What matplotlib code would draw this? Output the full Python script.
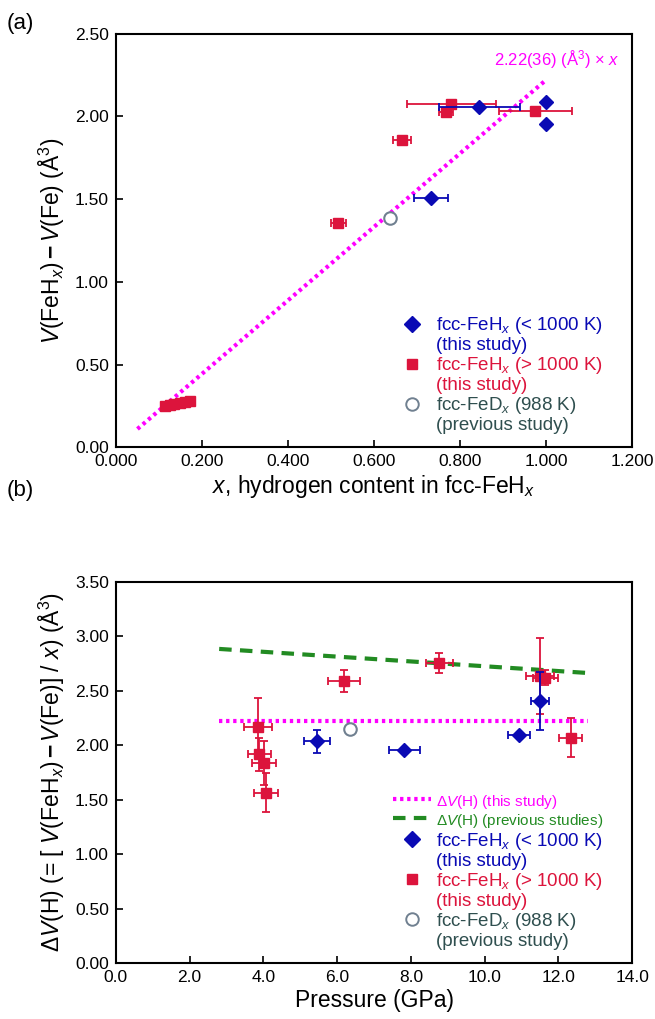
import numpy as np
import matplotlib
matplotlib.use("Agg")
import matplotlib.pyplot as plt
from matplotlib.lines import Line2D

plt.rcParams['font.family'] = ['Liberation Sans', 'DejaVu Sans']
plt.rcParams['mathtext.fontset'] = 'custom'
plt.rcParams['mathtext.rm'] = 'Liberation Sans'
plt.rcParams['mathtext.it'] = 'Liberation Sans:italic'
plt.rcParams['mathtext.bf'] = 'Liberation Sans:bold'

BLUE = '#0a0ab4'
RED = '#dc143c'
MAG = '#ff00ff'
GREEN = '#228b22'
GRAY = '#708090'
DGRAY = '#2f4f4f'

# ---- panel (a) data: x, V(FeHx)-V(Fe)
a_blue_x = [0.845, 1.000, 1.000, 0.733]
a_blue_y = [2.055, 2.089, 1.955, 1.508]
a_blue_xerr = [0.095, 0.0, 0.0, 0.040]

a_red_x = [0.780, 0.767, 0.975, 0.665, 0.517, 0.115, 0.125, 0.135, 0.148, 0.160, 0.172]
a_red_y = [2.075, 2.025, 2.035, 1.858, 1.354, 0.252, 0.258, 0.262, 0.268, 0.272, 0.278]
a_red_xerr = [0.104, 0.017, 0.085, 0.020, 0.018, 0.0, 0.0, 0.0, 0.0, 0.0, 0.012]

a_gray_x = [0.637]
a_gray_y = [1.387]

fit_slope = 2.22
fit_x = [0.05, 1.0]

# ---- panel (b) data: pressure, dV(H)
b_blue_p = [5.45, 7.82, 10.93, 11.50]
b_blue_v = [2.034, 1.952, 2.093, 2.406]
b_blue_perr = [0.35, 0.42, 0.30, 0.24]
b_blue_verr = [0.11, 0.02, 0.02, 0.27]

b_red_p = [3.85, 3.89, 4.02, 4.07, 6.19, 8.77, 11.49, 11.65, 12.33]
b_red_v = [2.166, 1.915, 1.836, 1.562, 2.587, 2.757, 2.635, 2.620, 2.070]
b_red_perr = [0.38, 0.32, 0.32, 0.32, 0.43, 0.36, 0.38, 0.35, 0.31]
b_red_verr = [0.27, 0.15, 0.20, 0.18, 0.10, 0.09, 0.35, 0.07, 0.18]

b_gray_p = [6.36]
b_gray_v = [2.149]

this_dv = 2.22
prev_p = [2.8, 12.8]
prev_dv = [2.884, 2.663]

fig = plt.figure(figsize=(6.55, 10.19), dpi=100)
ax1 = fig.add_axes([0.177, 0.561, 0.788, 0.406])
ax2 = fig.add_axes([0.177, 0.055, 0.788, 0.374])

eb_kw = dict(linestyle='none', capsize=3, elinewidth=1.3, capthick=1.3)

# panel (a)
ax1.plot(fit_x, [fit_slope * v for v in fit_x], color=MAG, lw=3, ls=(0, (0.8, 0.9)), zorder=2)
ax1.errorbar(a_red_x, a_red_y, xerr=a_red_xerr, fmt='s', color=RED, ms=7.5, ecolor=RED, zorder=3, **eb_kw)
ax1.errorbar(a_blue_x, a_blue_y, xerr=a_blue_xerr, fmt='D', color=BLUE, ms=7.5, ecolor=BLUE, zorder=4, **eb_kw)
ax1.plot(a_gray_x, a_gray_y, 'o', mfc='white', mec=GRAY, mew=1.5, ms=9, zorder=4)
ax1.text(0.879, 2.34, r'2.22(36) (Å$^3$) × $x$', color=MAG, fontsize=12, va='center')

ax1.set_xlim(0, 1.2)
ax1.set_ylim(0, 2.5)
ax1.set_xticks(np.arange(0, 1.21, 0.2))
ax1.set_yticks(np.arange(0, 2.51, 0.5))
ax1.xaxis.set_major_formatter(matplotlib.ticker.FormatStrFormatter('%.3f'))
ax1.yaxis.set_major_formatter(matplotlib.ticker.FormatStrFormatter('%.2f'))
ax1.set_xlabel(r'$x$, hydrogen content in fcc-FeH$_x$', fontsize=16.5, labelpad=3)
ax1.set_ylabel(r'$V$(FeH$_x$)$\,\mathbf{-}\,$$V$(Fe) (Å$^3$)', fontsize=16.5, labelpad=6)

# panel (b)
ax2.plot([prev_p[0], prev_p[1]], [this_dv, this_dv], color=MAG, lw=3, ls=(0, (0.8, 0.9)), zorder=2)
ax2.plot(prev_p, prev_dv, color=GREEN, lw=3, ls=(0, (3, 2)), zorder=2)
ax2.errorbar(b_red_p, b_red_v, xerr=b_red_perr, yerr=b_red_verr, fmt='s', color=RED, ms=7.5, ecolor=RED, zorder=3, **eb_kw)
ax2.errorbar(b_blue_p, b_blue_v, xerr=b_blue_perr, yerr=b_blue_verr, fmt='D', color=BLUE, ms=7.5, ecolor=BLUE, zorder=4, **eb_kw)
ax2.plot(b_gray_p, b_gray_v, 'o', mfc='white', mec=GRAY, mew=1.5, ms=9, zorder=4)

ax2.set_xlim(0, 14)
ax2.set_ylim(0, 3.5)
ax2.set_xticks(np.arange(0, 14.1, 2))
ax2.set_yticks(np.arange(0, 3.51, 0.5))
ax2.xaxis.set_major_formatter(matplotlib.ticker.FormatStrFormatter('%.1f'))
ax2.yaxis.set_major_formatter(matplotlib.ticker.FormatStrFormatter('%.2f'))
ax2.set_xlabel('Pressure (GPa)', fontsize=16.5, labelpad=3)
ax2.set_ylabel(r'$\Delta V$(H) (= [ $V$(FeH$_x$)$\,\mathbf{-}\,$$V$(Fe)] / $x$) (Å$^3$)', fontsize=16.5, labelpad=6)

for ax in (ax1, ax2):
    ax.tick_params(direction='in', length=5, width=1.2, labelsize=12.5, top=False, right=False, pad=5)
    for s in ax.spines.values():
        s.set_linewidth(1.5)

# legends
blank = Line2D([], [], ls='none', marker=None)
hs = [Line2D([], [], ls='none', marker='D', color=BLUE, ms=8), blank,
      Line2D([], [], ls='none', marker='s', color=RED, ms=7), blank,
      Line2D([], [], ls='none', marker='o', mfc='white', mec=GRAY, mew=1.4, ms=9), blank]
labels = [r'fcc-FeH$_x$ (< 1000 K)', '(this study)',
          r'fcc-FeH$_x$ (> 1000 K)', '(this study)',
          r'fcc-FeD$_x$ (988 K)', '(previous study)']
colors = [BLUE, BLUE, RED, RED, DGRAY, DGRAY]

leg1 = ax1.legend(hs, labels, labelcolor=colors, loc='lower right', bbox_to_anchor=(0.97, 0.0),
                  frameon=False, fontsize=13.5, labelspacing=0.05, handlelength=2.0,
                  handletextpad=0.3, borderaxespad=0.3)

line_hs = [Line2D([], [], color=MAG, lw=3, ls=(0, (0.8, 0.9))),
           Line2D([], [], color=GREEN, lw=3, ls=(0, (3, 2)))]
line_labels = [r'$\Delta V$(H) (this study)', r'$\Delta V$(H) (previous studies)']
leg2 = ax2.legend(line_hs + hs, line_labels + labels, labelcolor=[MAG, GREEN] + colors,
                  loc='lower right', bbox_to_anchor=(0.97, 0.0),
                  frameon=False, fontsize=13.5, labelspacing=0.05, handlelength=2.0,
                  handletextpad=0.3, borderaxespad=0.3)
for t in leg2.get_texts()[:2]:
    t.set_fontsize(11)

fig.text(0.01, 0.977, '(a)', fontsize=16, va='center')
fig.text(0.01, 0.519, '(b)', fontsize=16, va='center')

fig.savefig('out.png', dpi=100)
